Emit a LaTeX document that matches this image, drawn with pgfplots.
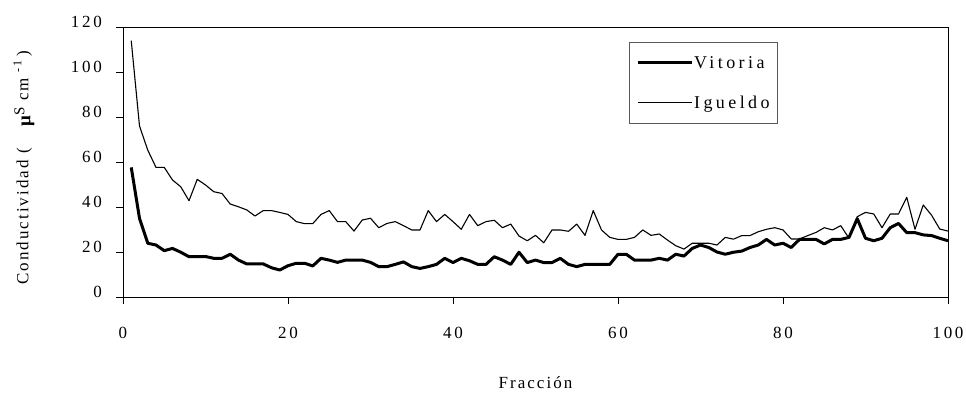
\documentclass[border=0pt]{standalone}
\usepackage{fontspec}
\setmainfont{Liberation Serif}
\newfontfamily\tickfont[LetterSpace=16]{Liberation Serif}
\newfontfamily\legfont[LetterSpace=19]{Liberation Serif}
\newfontfamily\labfont[LetterSpace=12]{Liberation Serif}
\usepackage{pgfplots}
\pgfplotsset{compat=1.18}
\pgfplotstableread{
x y
1 57.6
2 35
3 23.9
4 23.1
5 20.6
6 21.6
7 19.9
8 17.9
9 18
10 18
11 17.2
12 17.2
13 19
14 16.4
15 14.7
16 14.7
17 14.7
18 13
19 12
20 13.9
21 15
22 15
23 13.8
24 17.2
25 16.4
26 15.4
27 16.4
28 16.4
29 16.4
30 15.4
31 13.5
32 13.5
33 14.5
34 15.6
35 13.5
36 12.7
37 13.5
38 14.5
39 17.2
40 15.3
41 17.2
42 16.1
43 14.5
44 14.5
45 17.9
46 16.4
47 14.5
48 19.9
49 15.3
50 16.4
51 15.3
52 15.3
53 17.2
54 14.5
55 13.5
56 14.5
57 14.5
58 14.5
59 14.5
60 19
61 19
62 16.4
63 16.4
64 16.4
65 17.2
66 16.4
67 19
68 18.2
69 21.6
70 23.1
71 22
72 20
73 19
74 19.9
75 20.4
76 22
77 23.1
78 25.6
79 23.1
80 23.9
81 22
82 25.6
83 25.6
84 25.6
85 23.6
86 25.6
87 25.6
88 26.5
89 34.8
90 26.1
91 25
92 26.1
93 30.8
94 32.7
95 28.6
96 28.6
97 27.6
98 27.3
99 26.1
100 25
}\vitoria
\pgfplotstableread{
x y
1 113.9
2 76
3 65.3
4 57.6
5 57.6
6 52
7 49
8 42.8
9 52.3
10 49.8
11 46.8
12 46
13 41.3
14 40.1
15 38.7
16 36
17 38.4
18 38.4
19 37.6
20 36.7
21 33.5
22 32.6
23 32.6
24 36.7
25 38.4
26 33.5
27 33.5
28 29.3
29 34.2
30 35
31 30.8
32 32.7
33 33.5
34 31.7
35 29.8
36 29.8
37 38.4
38 33.5
39 36.7
40 33.5
41 30.1
42 36.7
43 31.7
44 33.5
45 34.1
46 30.8
47 32.4
48 27.1
49 25
50 27.4
51 24.1
52 29.8
53 29.8
54 29.2
55 32.4
56 27.4
57 38.4
58 29.8
59 26.5
60 25.6
61 25.6
62 26.5
63 29.8
64 27.4
65 28
66 25.3
67 22.8
68 21.3
69 23.9
70 23.9
71 23.9
72 23.1
73 26.5
74 25.7
75 27.3
76 27.3
77 29
78 30.1
79 30.8
80 29.8
81 25.8
82 25.8
83 27.3
84 28.7
85 30.8
86 29.8
87 31.7
88 26.1
89 35.7
90 37.6
91 36.9
92 30.8
93 36.9
94 36.9
95 44.3
96 30.1
97 40.9
98 36.4
99 30.2
100 29.3
}\igueldo
\begin{document}
\begin{tikzpicture}
\useasboundingbox (-123pt,-97pt) rectangle (843pt,297pt);
\begin{axis}[
  at={(0pt,0pt)}, anchor=south west,
  scale only axis, width=825pt, height=270pt,
  xmin=0, xmax=100, ymin=0, ymax=120,
  xtick={0,20,...,100}, ytick={0,20,...,120},
  tick align=outside, major tick length=7pt, tick pos=left,
  axis line style={black, line width=0.8pt},
  tick style={black, line width=0.8pt},
  /pgf/number format/assume math mode=true,
  ticklabel style={font=\fontsize{17}{20}\tickfont},
  xticklabel style={anchor=center, inner sep=0pt},
  xticklabel shift=29pt,
  yticklabel style={anchor=east, inner sep=0pt, yshift=5pt},
  yticklabel shift=14pt,
  xlabel={Fracción},
  xlabel style={at={(axis description cs:0.5,0)}, anchor=center, yshift=-86pt, font=\fontsize{17}{20}\labfont},
  ylabel={Conductividad (\hspace{22pt}\raisebox{-2pt}{\fontsize{19}{20}\bfseries μ}\raisebox{4pt}{\fontsize{15}{15}\selectfont S} cm\hspace{6pt}\raisebox{7pt}{\fontsize{12}{12}\selectfont -1}\hspace{4pt})},
  ylabel style={at={(axis description cs:-0.12,0.478)}, anchor=center, font=\fontsize{17}{20}\labfont},
  legend style={at={(rel axis cs:0.613,0.945)}, anchor=north west,
    draw=black!65, line width=0.8pt, inner xsep=7pt, inner ysep=13pt,
    row sep=24pt, font=\fontsize{18}{20}\legfont, cells={anchor=west},
    nodes={inner sep=1pt}},
  legend image code/.code={\draw[#1] (0pt,0pt) -- (54pt,0pt);},
]
\addplot[black, line width=3pt, line join=round] table[x=x,y=y] {\vitoria};
\addlegendentry{Vitoria}
\addplot[black, line width=1.1pt, line join=round] table[x=x,y=y] {\igueldo};
\addlegendentry{Igueldo}
\end{axis}
\end{tikzpicture}
\end{document}
